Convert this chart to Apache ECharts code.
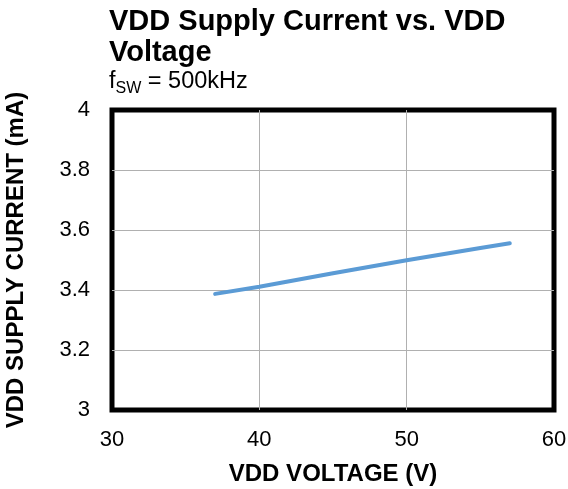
<!DOCTYPE html>
<html>
<head>
<meta charset="utf-8">
<script src="https://cdn.jsdelivr.net/npm/echarts@6/dist/echarts.min.js"></script>
<style>
  html, body { margin: 0; padding: 0; background: #fff; }
  #chart { width: 568px; height: 489px; }
</style>
</head>
<body>
<div id="chart"></div>
<script>
const voltage = [37, 40, 45, 50, 55, 57];
const current = [3.387, 3.411, 3.456, 3.499, 3.540, 3.556];
const xTicks = [30, 40, 50, 60];
const yTicks = [3, 3.2, 3.4, 3.6, 3.8, 4];

const chart = echarts.init(document.getElementById('chart'));
const font = 'Arial, "Liberation Sans", sans-serif';

chart.setOption({
  animation: false,
  textStyle: { fontFamily: font },
  title: {
    text: 'VDD Supply Current vs. VDD\nVoltage',
    subtext: '{f|f}{s|SW}{f| = 500kHz}',
    left: 104,
    top: 1,
    itemGap: 2,
    textStyle: { fontFamily: font, fontSize: 29, fontWeight: 'bold', color: '#000', lineHeight: 31 },
    subtextStyle: {
      fontFamily: font,
      rich: {
        f: { fontFamily: font, fontSize: 23.5, color: '#000', verticalAlign: 'top', lineHeight: 25 },
        s: { fontFamily: font, fontSize: 16, color: '#000', padding: [11, 0, 0, 0], verticalAlign: 'top', lineHeight: 18 }
      }
    }
  },
  grid: {
    left: 112, right: 14, top: 110, bottom: 79,
    outerBoundsMode: 'none',
    show: true, borderColor: '#000', borderWidth: 5, backgroundColor: 'transparent'
  },
  xAxis: {
    type: 'value',
    min: xTicks[0], max: xTicks[xTicks.length - 1], interval: 10,
    name: 'VDD VOLTAGE (V)',
    nameLocation: 'middle', nameGap: 52,
    nameTextStyle: { fontFamily: font, fontSize: 24, fontWeight: 'bold', color: '#000' },
    axisLine: { show: false }, axisTick: { show: false },
    axisLabel: { fontFamily: font, fontSize: 22, color: '#000', margin: 19 },
    splitLine: { show: true, showMinLine: false, showMaxLine: false, lineStyle: { color: '#b0b0b0', width: 1 } }
  },
  yAxis: {
    type: 'value',
    min: yTicks[0], max: yTicks[yTicks.length - 1], interval: 0.2,
    name: 'VDD SUPPLY CURRENT (mA)',
    nameLocation: 'middle', nameGap: 84,
    nameTextStyle: { fontFamily: font, fontSize: 24, fontWeight: 'bold', color: '#000' },
    axisLine: { show: false }, axisTick: { show: false },
    axisLabel: {
      fontFamily: font, fontSize: 22, color: '#000', margin: 22,
      formatter: v => (Math.round(v * 10) / 10).toString()
    },
    splitLine: { show: true, showMinLine: false, showMaxLine: false, lineStyle: { color: '#b0b0b0', width: 1 } }
  },
  series: [{
    type: 'line',
    data: voltage.map((v, i) => [v, current[i]]),
    showSymbol: false,
    lineStyle: { color: '#5b9bd5', width: 4, cap: 'round' },
    itemStyle: { color: '#5b9bd5' }
  }]
});
</script>
</body>
</html>
